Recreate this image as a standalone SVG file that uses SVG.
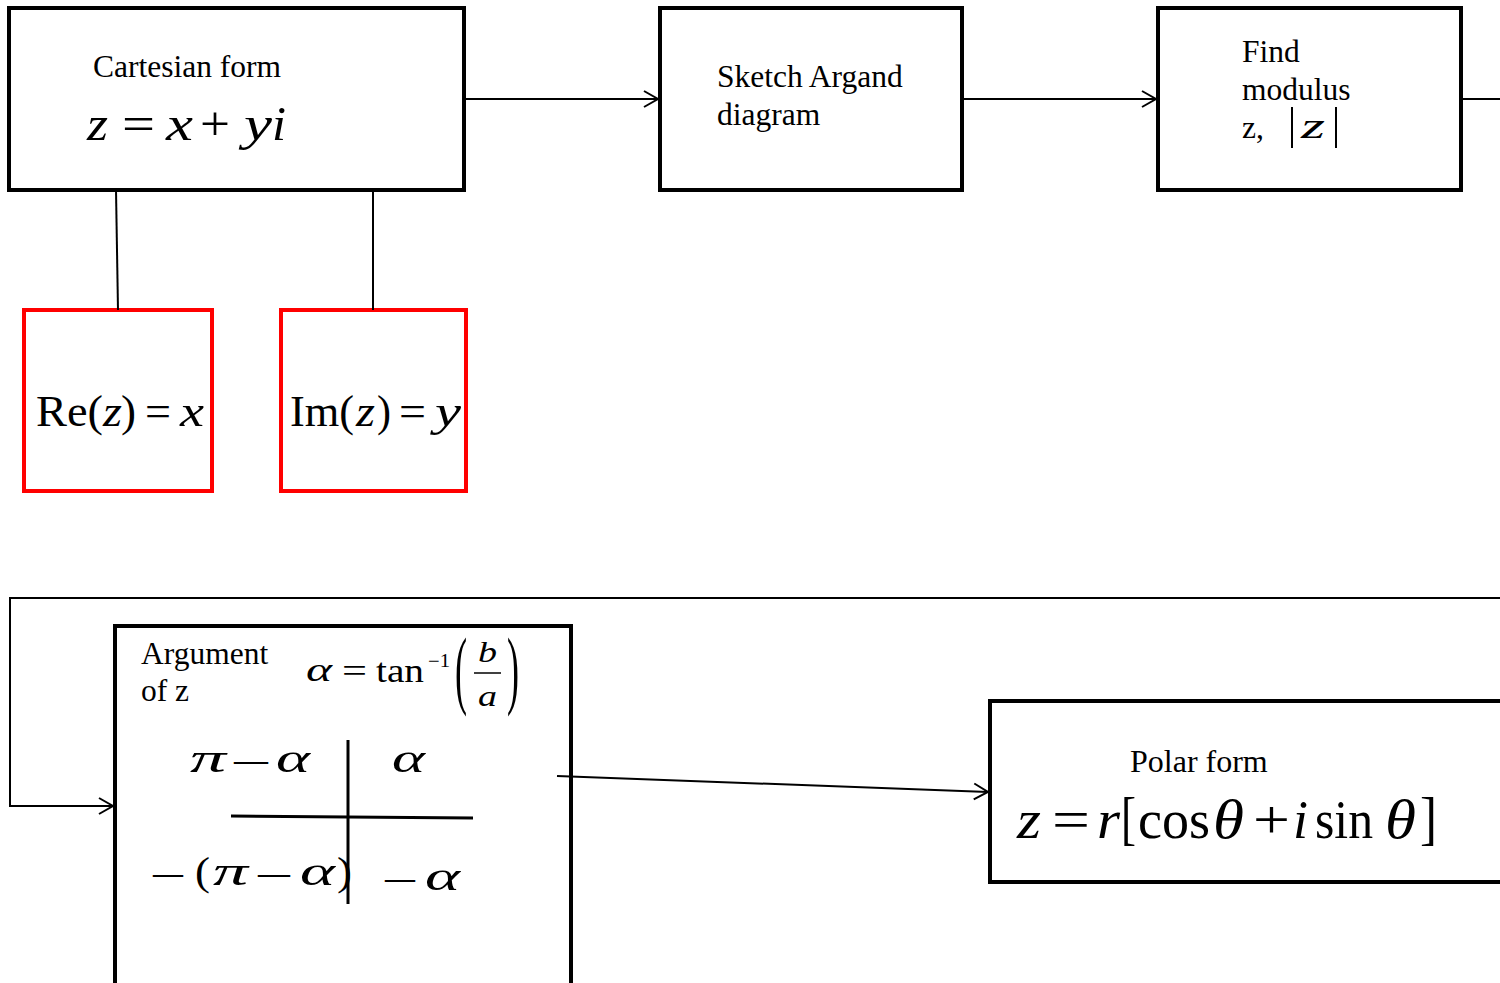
<svg xmlns="http://www.w3.org/2000/svg" width="1500" height="983" viewBox="0 0 1500 983">
<style>
.box{fill:#fff;stroke:#000;stroke-width:4}
.red{fill:#fff;stroke:#f00;stroke-width:4}
.ln{fill:none;stroke:#000;stroke-width:2}
.t{font-family:"Liberation Serif","Times New Roman",serif;fill:#000}
.lb{font-size:31.5px}
.i{font-style:italic}
</style>
<defs>
<marker id="arr" markerWidth="20" markerHeight="20" refX="16" refY="10" orient="auto" markerUnits="userSpaceOnUse">
<path d="M2,2 L16,10 L2,18" fill="none" stroke="#000" stroke-width="2"/>
</marker>
</defs>
<rect width="1500" height="983" fill="#fff"/>
<g id="cartesian">
<rect class="box" x="9" y="8" width="455" height="182"/>
<text class="t lb" x="93" y="77">Cartesian form</text>
<g class="t" font-size="48">
<text class="i" x="87" y="140" textLength="21" lengthAdjust="spacingAndGlyphs">z</text>
<text x="122" y="140" textLength="33" lengthAdjust="spacingAndGlyphs">=</text>
<text class="i" x="166" y="140" textLength="27" lengthAdjust="spacingAndGlyphs">x</text>
<text x="200" y="140" textLength="30" lengthAdjust="spacingAndGlyphs">+</text>
<text class="i" x="244" y="140" textLength="28" lengthAdjust="spacingAndGlyphs">y</text>
<text class="i" x="272" y="140" textLength="14" lengthAdjust="spacingAndGlyphs">i</text>
</g>
</g>
<g id="argand">
<rect class="box" x="660" y="8" width="302" height="182"/>
<text class="t lb" x="717" y="87">Sketch Argand</text>
<text class="t lb" x="717" y="125">diagram</text>
</g>
<g id="modulus">
<rect class="box" x="1158" y="8" width="303" height="182"/>
<text class="t lb" x="1242" y="62">Find</text>
<text class="t lb" x="1242" y="100">modulus</text>
<text class="t lb" x="1242" y="138">z,</text>
<line x1="1292" y1="107" x2="1292" y2="148" stroke="#000" stroke-width="2"/>
<text class="t i" x="1301" y="138" font-size="36" textLength="24" lengthAdjust="spacingAndGlyphs">z</text>
<line x1="1336" y1="107" x2="1336" y2="148" stroke="#000" stroke-width="2"/>
</g>
<g id="re">
<rect class="red" x="24" y="310" width="188" height="181"/>
<g class="t" font-size="44">
<text x="36" y="426" textLength="67" lengthAdjust="spacingAndGlyphs">Re(</text>
<text class="i" x="103" y="426" textLength="19" lengthAdjust="spacingAndGlyphs">z</text>
<text x="121" y="426" textLength="15" lengthAdjust="spacingAndGlyphs">)</text>
<text x="145" y="426" textLength="26" lengthAdjust="spacingAndGlyphs">=</text>
<text class="i" x="180" y="426" textLength="24" lengthAdjust="spacingAndGlyphs">x</text>
</g>
</g>
<g id="im">
<rect class="red" x="281" y="310" width="185" height="181"/>
<g class="t" font-size="44">
<text x="290" y="426" textLength="64" lengthAdjust="spacingAndGlyphs">Im(</text>
<text class="i" x="356" y="426" textLength="19" lengthAdjust="spacingAndGlyphs">z</text>
<text x="377" y="426" textLength="14" lengthAdjust="spacingAndGlyphs">)</text>
<text x="399" y="426" textLength="27" lengthAdjust="spacingAndGlyphs">=</text>
<text class="i" x="435" y="426" textLength="26" lengthAdjust="spacingAndGlyphs">y</text>
</g>
</g>
<g id="argument">
<rect class="box" x="115" y="626" width="456" height="370"/>
<text class="t lb" x="141" y="664">Argument</text>
<text class="t lb" x="141" y="701">of z</text>
<g class="t" font-size="34">
<text class="i" x="306" y="681" textLength="26" lengthAdjust="spacingAndGlyphs">α</text>
<text x="342" y="682" textLength="25" lengthAdjust="spacingAndGlyphs">=</text>
<text x="376" y="682" textLength="48" lengthAdjust="spacingAndGlyphs">tan</text>
<text x="428" y="667" font-size="18" textLength="22" lengthAdjust="spacingAndGlyphs">−1</text>
<text transform="translate(455 698) scale(0.42 1)" font-size="86">(</text>
<text transform="translate(507 698) scale(0.42 1)" font-size="86">)</text>
<text class="i" x="478" y="662" font-size="30" textLength="19" lengthAdjust="spacingAndGlyphs">b</text>
<text class="i" x="478" y="706" font-size="30" textLength="19" lengthAdjust="spacingAndGlyphs">a</text>
</g>
<line x1="474" y1="673" x2="501" y2="673" stroke="#000" stroke-width="1.5"/>
<line x1="348" y1="740" x2="348" y2="904" stroke="#000" stroke-width="3"/>
<line x1="231" y1="816" x2="473" y2="818" stroke="#000" stroke-width="3"/>
<g class="t" font-size="40">
<text class="i" x="190" y="772" textLength="36" lengthAdjust="spacingAndGlyphs">π</text>
<text x="234" y="772" textLength="34" lengthAdjust="spacingAndGlyphs">—</text>
<text class="i" x="276" y="772" textLength="34" lengthAdjust="spacingAndGlyphs">α</text>
<text class="i" x="392" y="772" textLength="33" lengthAdjust="spacingAndGlyphs">α</text>
<text x="153" y="885" textLength="30" lengthAdjust="spacingAndGlyphs">—</text>
<text x="195" y="885" textLength="15" lengthAdjust="spacingAndGlyphs">(</text>
<text class="i" x="213" y="885" textLength="35" lengthAdjust="spacingAndGlyphs">π</text>
<text x="258" y="885" textLength="32" lengthAdjust="spacingAndGlyphs">—</text>
<text class="i" x="300" y="885" textLength="35" lengthAdjust="spacingAndGlyphs">α</text>
<text x="337" y="885" textLength="15" lengthAdjust="spacingAndGlyphs">)</text>
<text x="385" y="890" textLength="30" lengthAdjust="spacingAndGlyphs">—</text>
<text class="i" x="425" y="890" textLength="35" lengthAdjust="spacingAndGlyphs">α</text>
</g>
</g>
<g id="polar">
<rect class="box" x="990" y="701" width="520" height="181"/>
<text class="t" x="1130" y="772" font-size="32">Polar form</text>
<g class="t" font-size="54">
<text class="i" x="1017" y="838" textLength="24" lengthAdjust="spacingAndGlyphs">z</text>
<text x="1052" y="838" textLength="38" lengthAdjust="spacingAndGlyphs">=</text>
<text class="i" x="1097" y="838" textLength="23" lengthAdjust="spacingAndGlyphs">r</text>
<text x="1121" y="838" font-size="60" textLength="15" lengthAdjust="spacingAndGlyphs">[</text>
<text x="1138" y="838" textLength="72" lengthAdjust="spacingAndGlyphs">cos</text>
<text class="i" x="1213" y="838" textLength="31" lengthAdjust="spacingAndGlyphs">θ</text>
<text x="1253" y="838" textLength="37" lengthAdjust="spacingAndGlyphs">+</text>
<text class="i" x="1293" y="838" textLength="15" lengthAdjust="spacingAndGlyphs">i</text>
<text x="1315" y="838" textLength="58" lengthAdjust="spacingAndGlyphs">sin</text>
<text class="i" x="1385" y="838" textLength="31" lengthAdjust="spacingAndGlyphs">θ</text>
<text x="1420" y="838" font-size="60" textLength="17" lengthAdjust="spacingAndGlyphs">]</text>
</g>
</g>
<g id="connectors">
<line class="ln" x1="466" y1="99" x2="658" y2="99" marker-end="url(#arr)"/>
<line class="ln" x1="964" y1="99" x2="1156" y2="99" marker-end="url(#arr)"/>
<line class="ln" x1="1463" y1="99" x2="1500" y2="99"/>
<line class="ln" x1="116" y1="190" x2="118" y2="310"/>
<line class="ln" x1="373" y1="190" x2="373" y2="310"/>
<polyline class="ln" points="1500,598 10,598 10,806 113,806" marker-end="url(#arr)"/>
<line class="ln" x1="557" y1="776" x2="988" y2="792" marker-end="url(#arr)"/>
</g>
</svg>
